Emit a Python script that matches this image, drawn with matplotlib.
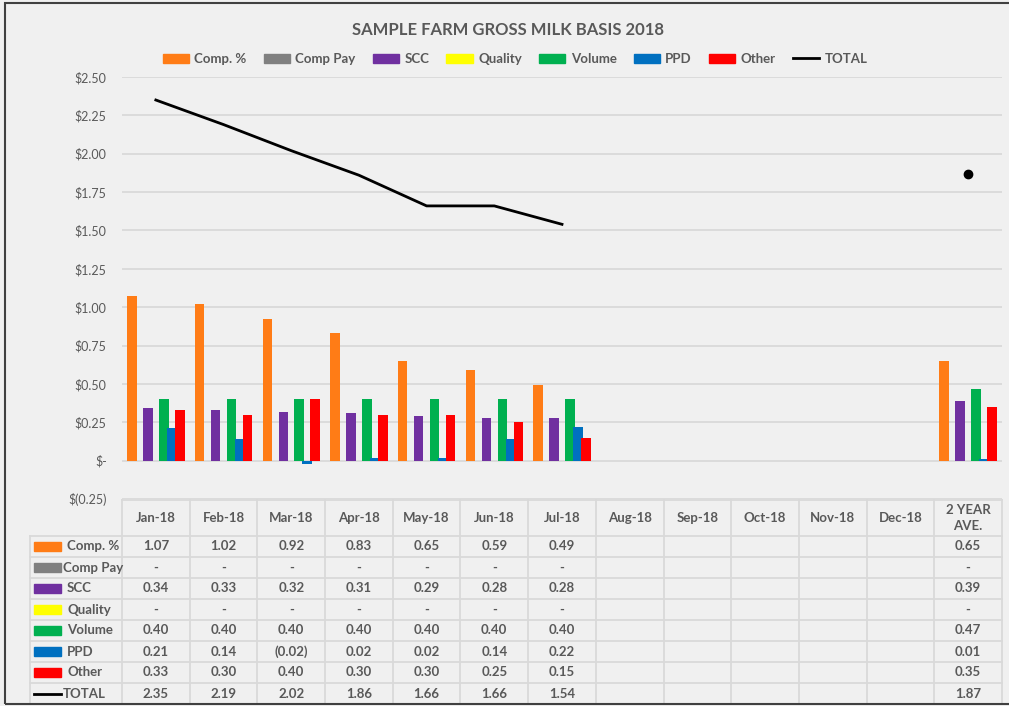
import matplotlib.pyplot as plt
from matplotlib.patches import Rectangle
from matplotlib.lines import Line2D
import numpy as np

plt.rcParams['font.family'] = ['Lato', 'DejaVu Sans']

# ------------------------- Data --------------------------- #
nan = np.nan
months = ['Jan-18', 'Feb-18', 'Mar-18', 'Apr-18', 'May-18', 'Jun-18', 'Jul-18',
          'Aug-18', 'Sep-18', 'Oct-18', 'Nov-18', 'Dec-18', '2 YEAR\nAVE.']

comp_pct = [1.07, 1.02, 0.92, 0.83, 0.65, 0.59, 0.49, nan, nan, nan, nan, nan, 0.65]
comp_pay = [0, 0, 0, 0, 0, 0, 0, nan, nan, nan, nan, nan, 0]
scc      = [0.34, 0.33, 0.32, 0.31, 0.29, 0.28, 0.28, nan, nan, nan, nan, nan, 0.39]
quality  = [0, 0, 0, 0, 0, 0, 0, nan, nan, nan, nan, nan, 0]
volume   = [0.40, 0.40, 0.40, 0.40, 0.40, 0.40, 0.40, nan, nan, nan, nan, nan, 0.47]
ppd      = [0.21, 0.14, -0.02, 0.02, 0.02, 0.14, 0.22, nan, nan, nan, nan, nan, 0.01]
other    = [0.33, 0.30, 0.40, 0.30, 0.30, 0.25, 0.15, nan, nan, nan, nan, nan, 0.35]
total    = [2.35, 2.19, 2.02, 1.86, 1.66, 1.66, 1.54, nan, nan, nan, nan, nan, 1.87]

series_names = ['Comp. %', 'Comp Pay', 'SCC', 'Quality', 'Volume', 'PPD', 'Other']
series_vals = [comp_pct, comp_pay, scc, quality, volume, ppd, other]
series_colors = ['#ff7c16', '#808080', '#7030a0', '#ffff00', '#00b050', '#0070c0', '#ff0000']

TXT = '#595959'
GRID = '#d9d9d9'
BG = '#f0f0f0'
FS = 9.5


def money(v, pos=None):
    if abs(v) < 1e-9:
        return '$-'
    if v < 0:
        return f'$({abs(v):.2f})'
    return f'${v:.2f}'


def cell(v):
    if np.isnan(v):
        return ''
    if abs(v) < 1e-9:
        return '-'
    if v < 0:
        return f'({abs(v):.2f})'
    return f'{v:.2f}'


# ------------------------- Plot --------------------------- #
W, H = 1009, 706
fig = plt.figure(figsize=(W / 100, H / 100), dpi=100, facecolor=BG)

left_px, right_px = 122, 1002
ax = fig.add_axes([left_px / W, (H - 499) / H, (right_px - left_px) / W, (499 - 77) / H])
ax.set_facecolor(BG)
x = np.arange(len(months))

slot = 0.118
width = 0.14
for i, (name, vals, col) in enumerate(zip(series_names, series_vals, series_colors)):
    ax.bar(x + (i - 3) * slot, np.nan_to_num(vals), width=width, color=col, label=name, zorder=2)

tot = np.array(total)
ax.plot(x, tot, color='black', lw=2, zorder=3, label='TOTAL')
# isolated points show as dots
for k in range(len(tot)):
    prev_nan = k == 0 or np.isnan(tot[k - 1])
    next_nan = k == len(tot) - 1 or np.isnan(tot[k + 1])
    if not np.isnan(tot[k]) and prev_nan and next_nan:
        ax.plot(x[k], tot[k], 'o', color='black', ms=6, zorder=3)

ax.set_xlim(-0.5, len(months) - 0.5)
ax.set_ylim(-0.25, 2.5)
ax.set_yticks(np.arange(-0.25, 2.51, 0.25))
ax.yaxis.set_major_formatter(plt.FuncFormatter(money))
ax.tick_params(axis='y', length=0, pad=11, labelsize=9, labelcolor=TXT)
ax.set_xticks([])
ax.grid(axis='y', color=GRID, lw=1.3)
ax.set_axisbelow(True)
for s in ax.spines.values():
    s.set_visible(False)

fig.text(508 / W, (H - 30) / H, 'SAMPLE FARM GROSS MILK BASIS 2018', ha='center', va='center',
         fontsize=12, fontweight='bold', color=TXT)

handles = [Rectangle((0, 0), 1, 1, color=c) for c in series_colors]
handles.append(Line2D([], [], color='black', lw=2))
leg = fig.legend(handles, series_names + ['TOTAL'], loc='center', ncol=8,
                 bbox_to_anchor=(515 / W, (H - 59) / H), frameon=False,
                 prop={'weight': 'bold', 'size': FS}, handlelength=2.0, handleheight=0.7,
                 handletextpad=0.4, columnspacing=1.3)
for t in leg.get_texts():
    t.set_color(TXT)

# ------------------------- Table --------------------------- #
head_h = 36 / 21
n_rows = len(series_names) + 1
axt = fig.add_axes([left_px / W, (H - 704) / H, (right_px - left_px) / W, 204 / H])
axt.set_xlim(-0.5, len(months) - 0.5)
axt.set_ylim(head_h + n_rows, 0)
axt.axis('off')

px = 1 / 67.7  # one pixel in category units
x_left = -0.5 - 92 * px
lkw = dict(color=GRID, lw=1.3, clip_on=False)
for k in range(len(months) + 1):
    axt.plot([-0.5 + k, -0.5 + k], [0, head_h + n_rows], **lkw)
axt.plot([x_left, x_left], [head_h, head_h + n_rows], **lkw)
axt.plot([-0.5, len(months) - 0.5], [0, 0], **lkw)
for r in range(n_rows + 1):
    axt.plot([x_left, len(months) - 0.5], [head_h + r, head_h + r], **lkw)

tkw = dict(ha='center', va='center', fontsize=FS, fontweight='bold', color=TXT, clip_on=False)
for j, m in enumerate(months):
    axt.text(j, head_h / 2, m, linespacing=1.3, **tkw)

row_vals = series_vals + [total]
for r, vals in enumerate(row_vals):
    yc = head_h + r + 0.5
    for j, v in enumerate(vals):
        axt.text(j, yc, cell(v), **tkw)

for r, (name, col) in enumerate(zip(series_names, series_colors)):
    yc = head_h + r + 0.5
    axt.add_patch(Rectangle((x_left + 4 * px, yc - 0.22), 27 * px, 0.44, color=col, clip_on=False))
    tx = x_left + (33 if name == 'Comp Pay' else 37) * px
    axt.text(tx, yc, name, ha='left', va='center', fontsize=FS, fontweight='bold',
             color=TXT, clip_on=False)
yc = head_h + n_rows - 0.5
axt.plot([x_left + 4 * px, x_left + 31 * px], [yc, yc], color='black', lw=2, clip_on=False)
axt.text(x_left + 33 * px, yc, 'TOTAL', ha='left', va='center', fontsize=FS, fontweight='bold',
         color=TXT, clip_on=False)

# outer frame
fig.patches.append(Rectangle((5 / W, 2 / H), 1.1, 701 / H, transform=fig.transFigure,
                             fill=False, edgecolor='#404040', lw=1.5))

fig.savefig('out.png', dpi=100, facecolor=BG)
